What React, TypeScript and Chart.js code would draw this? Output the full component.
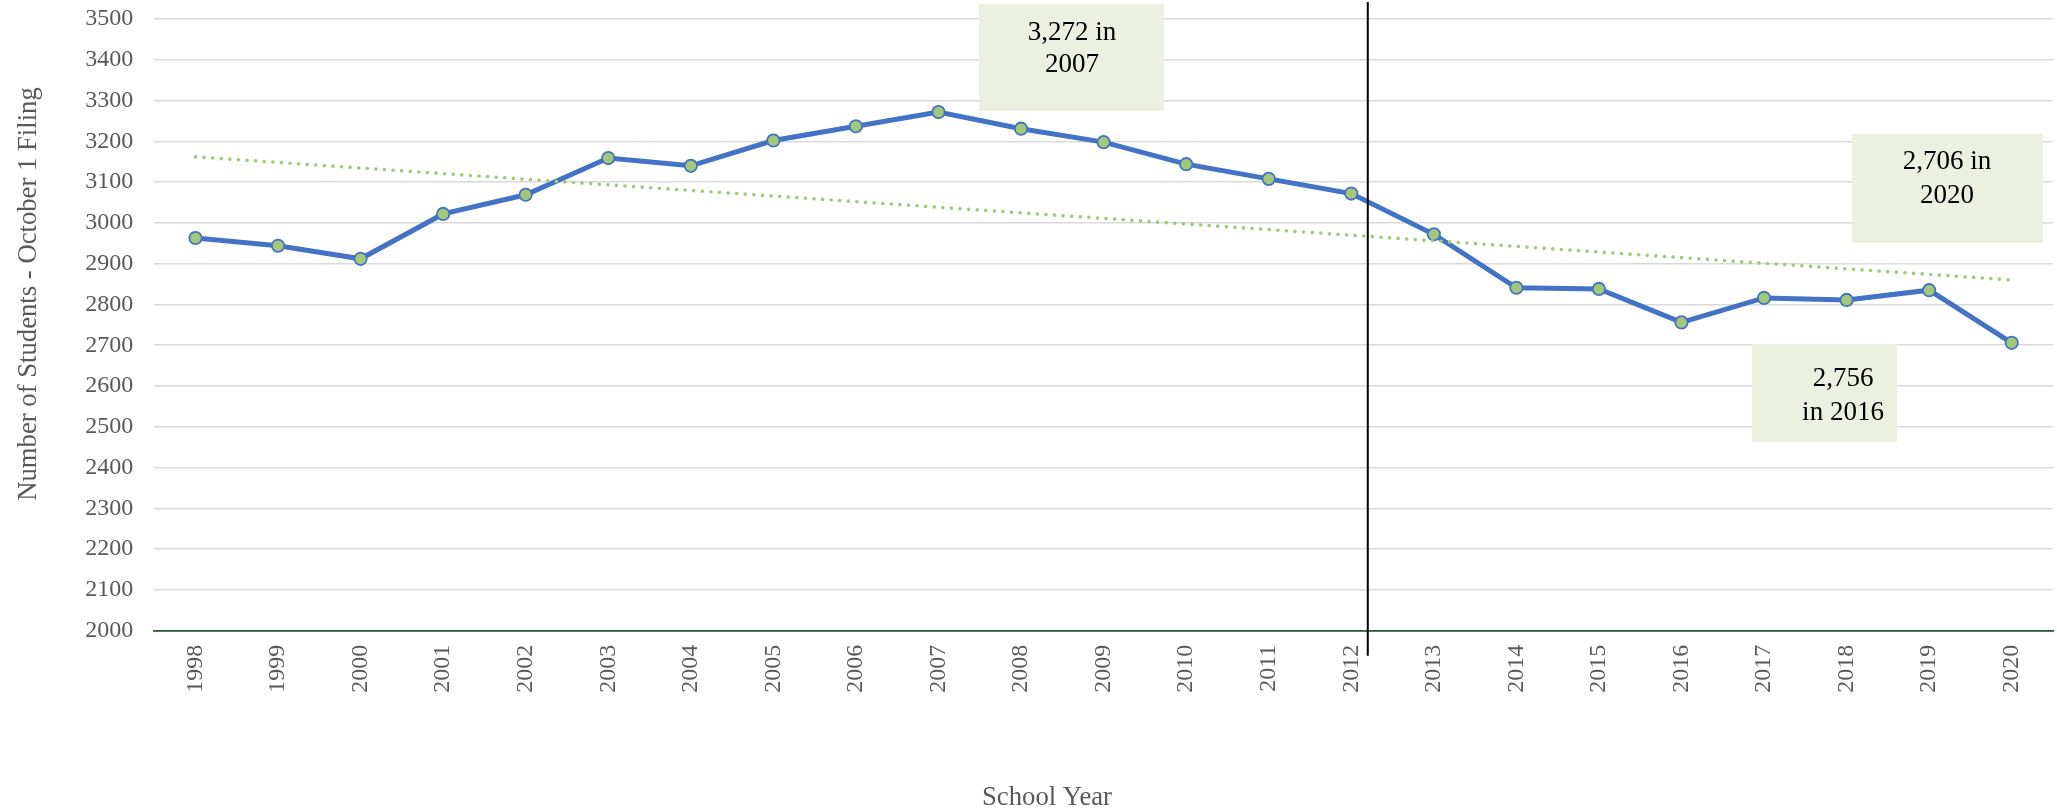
import React, { useEffect, useRef } from "react";
import { Chart, registerables } from "chart.js";

Chart.register(...registerables);

const categories = [
  "1998", "1999", "2000", "2001", "2002", "2003", "2004", "2005", "2006", "2007", "2008", "2009",
  "2010", "2011", "2012", "2013", "2014", "2015", "2016", "2017", "2018", "2019", "2020",
];

const students = [
  2963, 2944, 2912, 3022, 3069, 3159, 3140, 3202, 3237, 3272, 3231, 3198,
  3144, 3108, 3072, 2972, 2841, 2838, 2756, 2816, 2811, 2835, 2706,
];

// Linear trend line end values
const trendStart = 3162;
const trendEnd = 2860;

const yMin = 2000;
const yMax = 3500;
const yStep = 100;

// fractional category index for the vertical divider (just right of 2012)
const dividerIndex = 14.2;

const yTitle = "Number of Students - October 1 Filing";
const xTitle = "School Year";

const noteTexts = [
  ["3,272 in", "2007"],
  ["2,706 in", "2020"],
  ["2,756", "in 2016"],
];

const FONT = "'Liberation Serif', 'Times New Roman', serif";

// annotation box layout (pixels)
const noteBoxes = [
  { x: 979, y: 4, w: 185, h: 107, cx: 1072, lines: [32.5, 65] },
  { x: 1852, y: 134, w: 191, h: 109, cx: 1947, lines: [162, 196] },
  { x: 1752, y: 344, w: 145, h: 98, cx: 1843, lines: [379, 413] },
];

const overlayPlugin = {
  id: "overlay",
  afterDatasetsDraw(chart: any) {
    const { ctx, chartArea, scales } = chart;
    const x = scales.x;
    ctx.save();
    // vertical divider
    const dx = x.getPixelForValue(dividerIndex);
    ctx.strokeStyle = "#000000";
    ctx.lineWidth = 2;
    ctx.beginPath();
    ctx.moveTo(dx, Math.max(chartArea.top - 17, 2));
    ctx.lineTo(dx, chartArea.bottom + 25);
    ctx.stroke();

    // annotation boxes
    noteBoxes.forEach((b, i) => {
      ctx.fillStyle = "#EBF1DE";
      ctx.fillRect(b.x, b.y, b.w, b.h);
      ctx.fillStyle = "#000000";
      ctx.font = `27px ${FONT}`;
      ctx.textAlign = "center";
      ctx.textBaseline = "middle";
      noteTexts[i].forEach((t, j) => ctx.fillText(t, b.cx, b.lines[j]));
    });

    // axis titles
    ctx.fillStyle = "#595959";
    ctx.font = `26.7px ${FONT}`;
    ctx.textAlign = "center";
    ctx.textBaseline = "middle";
    ctx.fillText(xTitle, 1047, 798);
    ctx.translate(29, 294);
    ctx.rotate(-Math.PI / 2);
    ctx.fillText(yTitle, 0, 0);
    ctx.restore();
  },
};

export default function App() {
  const ref = useRef<HTMLCanvasElement | null>(null);

  useEffect(() => {
    if (!ref.current) return;
    const last = categories.length - 1;
    const trend = categories.map((_, i) => (i === 0 ? trendStart : i === last ? trendEnd : null));
    const chart = new Chart(ref.current, {
      type: "line",
      data: {
        labels: categories,
        datasets: [
          {
            label: "Trend",
            data: trend,
            borderColor: "#9FCB78",
            borderWidth: 3.6,
            borderDash: [0.01, 8.6],
            borderCapStyle: "round",
            pointRadius: 0,
            spanGaps: true,
            tension: 0,
            order: 0,
          },
          {
            label: "Students",
            data: students,
            borderColor: "#4472C4",
            borderWidth: 5,
            pointRadius: 6.2,
            pointBackgroundColor: "#A3C87A",
            pointBorderColor: "#4472C4",
            pointBorderWidth: 1.8,
            tension: 0,
            order: 1,
          },
        ],
      },
      options: {
        responsive: false,
        animation: false,
        devicePixelRatio: 1,
        layout: { padding: { top: 19, left: 0, right: 0, bottom: 0 } },
        plugins: { legend: { display: false }, tooltip: { enabled: false }, title: { display: false } },
        scales: {
          x: {
            type: "category",
            offset: true,
            grid: { display: false, drawTicks: false },
            border: { display: true, color: "#2E5531", width: 1.8 },
            ticks: {
              color: "#595959",
              font: { family: FONT, size: 24 },
              minRotation: 90,
              maxRotation: 90,
              padding: 14,
              autoSkip: false,
            },
            afterFit: (s: any) => {
              s.height = 181.3;
              s.paddingTop = 0;
              s.paddingLeft = 0;
              s.paddingRight = 0;
            },
          },
          y: {
            min: yMin,
            max: yMax,
            grid: { color: "#D9D9D9", lineWidth: 1.5, drawTicks: false },
            border: { display: false },
            ticks: {
              stepSize: yStep,
              color: "#595959",
              font: { family: FONT, size: 24 },
              padding: 21,
              callback: (v: any) => String(v),
            },
            afterFit: (s: any) => {
              s.width = 154.2;
              s.paddingTop = 0;
              s.paddingBottom = 0;
            },
          },
        },
      },
      plugins: [overlayPlugin],
    });
    return () => chart.destroy();
  }, []);

  return (
    <div
      style={{
        position: "absolute",
        left: 0,
        top: 0,
        width: 2057,
        height: 812,
        overflow: "hidden",
        background: "#ffffff",
      }}
    >
      <canvas ref={ref} width={2061} height={812} style={{ display: "block" }} />
    </div>
  );
}
